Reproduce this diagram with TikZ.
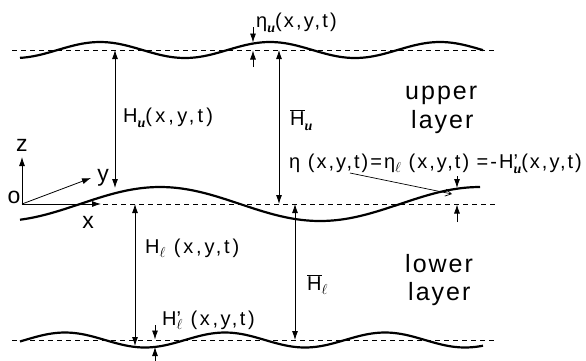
\documentclass[tikz,border=0pt]{standalone}
\usepackage{fontspec}
\setmainfont{Liberation Sans}
\newfontfamily\subf{Liberation Serif}
\usetikzlibrary{arrows.meta}
\newcommand\su{\raisebox{-0.28em}{\fontsize{14}{14}\selectfont\subf\bfseries\itshape u}}
\newcommand\sell{\raisebox{-0.22em}{\fontsize{15}{15}\selectfont$\ell$}}
\newcommand\Hbr{$\overline{\mbox{H}}$}
\newcommand\prm{\rlap{’}}
\tikzset{
  wave/.style={line width=2.2pt},
  guide/.style={line width=0.7pt, dash pattern=on 5pt off 4pt},
  dim/.style={line width=0.8pt, -{Latex[length=9pt,width=6pt]}},
  dimboth/.style={line width=0.8pt, {Latex[length=9pt,width=6pt]}-{Latex[length=9pt,width=6pt]}},
  lead/.style={line width=0.7pt, -{Straight Barb[length=6pt,width=7pt]}},
  lab/.style={font=\fontsize{20}{20}\selectfont, inner sep=0pt, anchor=base west},
  big/.style={font=\fontsize{25}{29}\selectfont, inner sep=0pt, anchor=base west},
  axl/.style={font=\fontsize{23}{23}\selectfont, inner sep=0pt}
}
\begin{document}
\begin{tikzpicture}[x=1pt,y=-1pt]
\useasboundingbox (0,0) rectangle (586,360);
% dashed reference lines
\coordinate (t1) at (12,50);  \coordinate (t2) at (497,50);
\coordinate (m1) at (103,204); \coordinate (m2) at (497,204);
\coordinate (b1) at (12,340); \coordinate (b2) at (497,340);
\draw[guide] (t1) -- (t2);
\draw[guide] (m1) -- (m2);
\draw[guide] (b1) -- (b2);
% waves
\draw[wave] plot[domain=20:483, samples=120, smooth] (\x, {50-8*cos(2.1176*(\x-100))});
\draw[wave] plot[domain=20:480, samples=120, smooth] (\x, {204-17*sin(1.125*(\x-80))});
\draw[wave] plot[domain=20:483, samples=120, smooth] (\x, {340-7.5*cos(2.25*(\x-65))});
% axes
\coordinate (O) at (22,204);
\coordinate (zt) at (22,157);
\coordinate (xt) at (101,204);
\coordinate (yt) at (91,178);
\draw[dim] (O) -- (zt);
\draw[dim] (O) -- (xt);
\draw[dim] (O) -- (yt);
\node[axl] (zl) at (22,145) {z};
\node[axl] (xl) at (88,222) {x};
\node[axl] (yl) at (103,178) {y};
\node[axl] (ol) at (14,197) {o};
% H_u
\coordinate (hu1) at (115,50); \coordinate (hu2) at (115,188);
\draw[dimboth] (hu1) -- (hu2);
% Hbar_u
\coordinate (hbu1) at (279,50); \coordinate (hbu2) at (279,204);
\draw[dimboth] (hbu1) -- (hbu2);
% eta_u
\coordinate (eu1) at (253,27); \coordinate (eu2) at (253,42.5);
\coordinate (eu3) at (253,67); \coordinate (eu4) at (253,50.5);
\draw[dim] (eu1) -- (eu2);
\draw[dim] (eu3) -- (eu4);
% eta right
\coordinate (er1) at (457,176); \coordinate (er2) at (457,188);
\coordinate (er3) at (457,222); \coordinate (er4) at (457,204.5);
\draw[dim] (er1) -- (er2);
\draw[dim] (er3) -- (er4);
% H_l
\coordinate (hl1) at (135,204); \coordinate (hl2) at (135,346);
\draw[dimboth] (hl1) -- (hl2);
% Hbar_l
\coordinate (hbl1) at (295,204); \coordinate (hbl2) at (295,340);
\draw[dimboth] (hbl1) -- (hbl2);
% H'_l
\coordinate (hp1) at (155,325); \coordinate (hp2) at (155,339.5);
\coordinate (hp3) at (155,361); \coordinate (hp4) at (155,347);
\draw[dim] (hp1) -- (hp2);
\draw[dim] (hp3) -- (hp4);
% labels
\node[lab] (Leu) at (256,27) {\addfontfeatures{LetterSpace=11}η\su(x,y,t)};
\node[lab] (Lhu) at (123,122) {\addfontfeatures{LetterSpace=16}H\su(x,y,t)};
\node[lab] (Lhbu) at (290,125) {\Hbr\su};
\node[big] (up1) at (405,99) {\addfontfeatures{LetterSpace=8}upper};
\node[big] (up2) at (411,128) {\addfontfeatures{LetterSpace=8}layer};
\node[lab] (Leta) at (289,168) {\addfontfeatures{LetterSpace=10}η (x,y,t)=η\sell\ (x,y,t) =-H\prm\su(x,y,t)};
\node[lab] (Lhl) at (145,253) {\addfontfeatures{LetterSpace=14}H\sell\ (x,y,t)};
\node[lab] (Lhbl) at (307,290) {\Hbr\sell};
\node[big] (lo1) at (405,272) {\addfontfeatures{LetterSpace=8}lower};
\node[big] (lo2) at (408,300) {\addfontfeatures{LetterSpace=8}layer};
\node[lab] (Lhpl) at (162,325) {\addfontfeatures{LetterSpace=13}H\prm\sell\ (x,y,t)};
% leader
\coordinate (ld1) at (350,173); \coordinate (ld2) at (452,194);
\draw[lead] (ld1) -- (ld2);
\end{tikzpicture}
\end{document}
